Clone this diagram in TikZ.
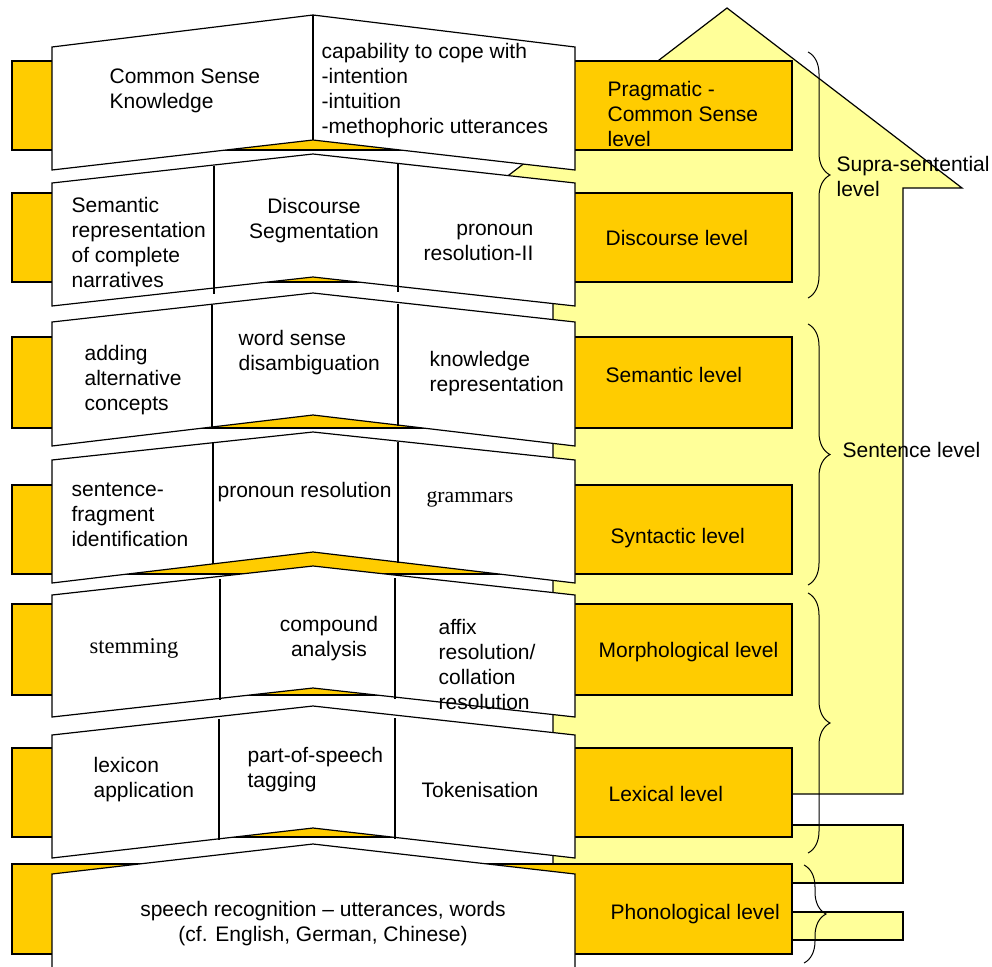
\documentclass[tikz,border=0pt]{standalone}
\usepackage{fontspec}
\setmainfont{Liberation Sans}
\newfontfamily\serifface{Liberation Serif}
\usetikzlibrary{decorations.pathreplacing}
\definecolor{orng}{HTML}{FFCC00}
\definecolor{lyel}{HTML}{FFFF99}
\newcommand\bannershape[4]{%
  \draw[banner] (52,#1) -- (313,#2) -- (575,#1) -- (575,#3) -- (313,#4) -- (52,#3) -- cycle;}
\begin{document}
\begin{tikzpicture}[x=1pt,y=-1pt,line width=1.2pt,
  lvlbox/.style={draw=black,fill=orng},
  banner/.style={draw=black,fill=white},
  txt/.style={inner sep=0pt,font=\fontsize{21}{25}\selectfont,anchor=base west,align=left},
  ctxt/.style={txt,anchor=base,align=center},
  rtxt/.style={txt,anchor=base east,align=right},
  sbrace/.style={decorate,decoration={brace,amplitude=22pt},line width=1pt}]
\useasboundingbox (0,0) rectangle (992,966);
\clip (0,0) rectangle (992,966);
% house
\fill[lyel] (553,864) -- (553,188) -- (492,188) -- (727,8) -- (962,188) -- (903,188) -- (903,794) -- (792,794) -- (792,864) -- cycle;
\draw (553,864) -- (553,188) -- (492,188) -- (727,8) -- (962,188) -- (903,188) -- (903,794) -- (792,794);
\fill[lyel] (792,825) rectangle (903,883);
\draw (792,825) -- (903,825) -- (903,883) -- (792,883);
\fill[lyel] (792,912) rectangle (903,940);
\draw (792,912) -- (903,912) -- (903,940) -- (792,940);
% level 1
\draw[lvlbox] (12,61) rectangle (792,150);
\bannershape{47}{15}{170}{140}
\draw (313,15) -- (313,140);
\node[txt] (csk) at (109,108) {Common Sense\\Knowledge};
\node[txt] (cap) at (321,133) {capability to cope with\\-intention\\-intuition\\-methophoric utterances};
\node[txt] (prag) at (607,146) {Pragmatic -\\Common Sense\\level};
% level 2
\draw[lvlbox] (12,193) rectangle (792,282);
\bannershape{183}{154}{306}{277}
\draw (214,166) -- (214,294);
\draw (398,164) -- (398,292);
\node[txt] (semrep) at (71,287) {Semantic\\representation\\of complete\\narratives};
\node[ctxt] (dseg) at (314,238) {Discourse\\Segmentation};
\node[rtxt] (pron2) at (534,260) {pronoun\\resolution-II};
\node[txt] (disc) at (605,245) {Discourse level};
% level 3
\draw[lvlbox] (12,337) rectangle (792,428);
\bannershape{322}{293}{446}{415}
\draw (212,305) -- (212,427);
\draw (398,304) -- (398,426);
\node[txt] (addalt) at (84,410) {adding\\alternative\\concepts};
\node[txt] (wsd) at (238,370) {word sense\\disambiguation};
\node[txt] (krep) at (429,391) {knowledge\\representation};
\node[txt] (sem) at (605,382) {Semantic level};
% level 4
\draw[lvlbox] (12,485) rectangle (792,574);
\bannershape{460}{432}{583}{552}
\draw (213,443) -- (213,564);
\draw (398,442) -- (398,563);
\node[txt] (sfi) at (71,546) {sentence-\\fragment\\identification};
\node[txt] (pres) at (217,497) {pronoun resolution};
\node[txt,font=\serifface\fontsize{21.7}{25}\selectfont] (gram) at (426,502) {grammars};
\node[txt] (syn) at (610,543) {Syntactic level};
% level 5
\draw[lvlbox] (12,604) rectangle (792,695);
\bannershape{595}{566}{717}{688}
\draw (220,579) -- (220,700);
\draw (395,578) -- (395,699);
\node[txt,font=\serifface\fontsize{22.5}{25}\selectfont] (stem) at (89,653) {stemming};
\node[ctxt] (comp) at (329,656) {compound\\analysis};
\node[txt] (affix) at (438,709) {affix\\resolution/\\collation\\resolution};
\node[txt] (morph) at (598,657) {Morphological level};
% level 6
\draw[lvlbox] (12,748) rectangle (792,837);
\bannershape{735}{706}{858}{828}
\draw (219,719) -- (219,840);
\draw (395,718) -- (395,839);
\node[txt] (lexapp) at (93,797) {lexicon\\application};
\node[txt] (pos) at (247,787) {part-of-speech\\tagging};
\node[txt] (tok) at (421,797) {Tokenisation};
\node[txt] (lex) at (608,801) {Lexical level};
% level 7
\draw[lvlbox] (12,864) rectangle (792,954);
\bannershape{874}{844}{1000}{1000}
\node[ctxt] (speech) at (323,941) {speech recognition -- utterances, words\\(cf. English, German, Chinese)};
\node[txt] (phon) at (610,919) {Phonological level};
% braces
\draw[sbrace] (808,52) -- (808,298);
\draw[sbrace] (808,324) -- (808,585);
\draw[sbrace] (808,593) -- (808,853);
\draw[sbrace] (804,865) -- (804,963);
\node[txt] (supra) at (836,196) {Supra-sentential\\level};
\node[txt] (sent) at (842,457) {Sentence level};
\end{tikzpicture}
\end{document}
